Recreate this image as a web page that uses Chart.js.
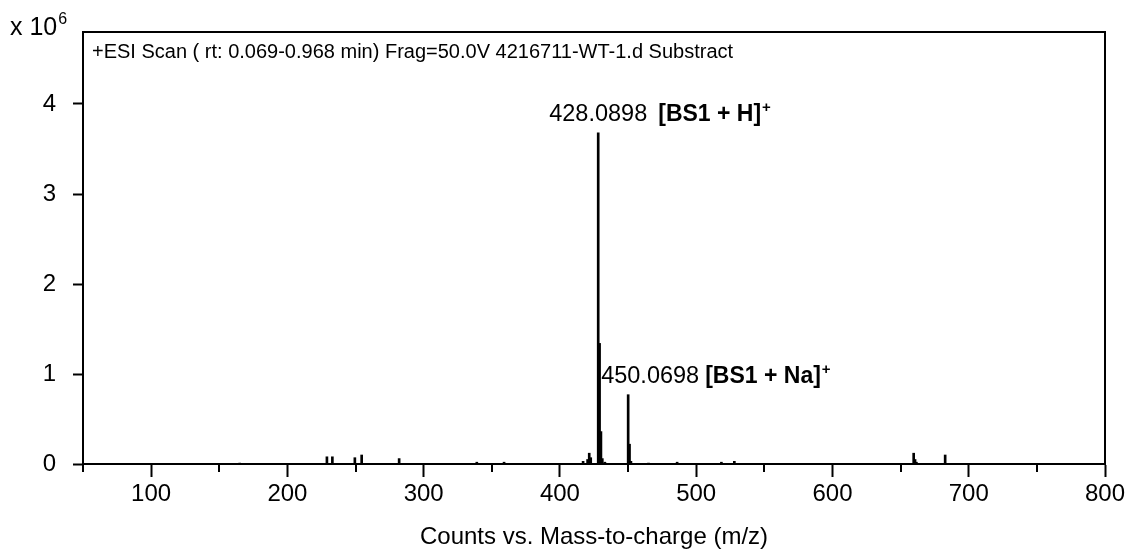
<!DOCTYPE html>
<html>
<head>
<meta charset="utf-8">
<script src="https://cdn.jsdelivr.net/npm/chart.js@4.4.0/dist/chart.umd.min.js"></script>
<style>
  html, body { margin: 0; padding: 0; background: #fff; }
</style>
</head>
<body>
<canvas id="spectrum" width="1129" height="552"></canvas>
<script>
// m/z of each stick and its abundance (x 10^6 counts)
const mzValues = [165, 229, 233, 249.5, 254.5, 282, 339, 359, 417, 420.3, 421.5, 422.6,
                  428.09, 429.09, 430.09, 431.1, 433, 450.07, 451.07, 452.1, 465, 486,
                  518.5, 528, 659.6, 660.6, 661.6, 682.7];
const counts = [0.01, 0.08, 0.08, 0.07, 0.1, 0.06, 0.02, 0.02, 0.03, 0.05, 0.12, 0.07,
                3.68, 1.34, 0.36, 0.06, 0.02, 0.77, 0.22, 0.03, 0.01, 0.02,
                0.02, 0.03, 0.12, 0.05, 0.02, 0.1];
const xTicks = [100, 200, 300, 400, 500, 600, 700, 800];
const xMinorTicks = [50, 150, 250, 350, 450, 550, 650, 750];
const yTicks = [0, 1, 2, 3, 4];
const peakMz = [428.0898, 450.0698];
const peakText = ['428.0898', '450.0698'];
const peakIon = ['[BS1 + H]', '[BS1 + Na]'];
const scanTitle = '+ESI Scan ( rt: 0.069-0.968 min) Frag=50.0V 4216711-WT-1.d Substract';
const xTitle = 'Counts vs. Mass-to-charge (m/z)';

const FONT = '"Liberation Sans", Arial, sans-serif';

const extras = {
    id: 'extras',
    afterDraw(chart) {
        const ctx = chart.ctx;
        const area = chart.chartArea;
        const x = chart.scales.x;
        const y = chart.scales.y;
        ctx.save();
        ctx.strokeStyle = '#000';
        ctx.lineWidth = 2;
        // top and right sides of the box
        ctx.beginPath();
        ctx.moveTo(area.left, area.top);
        ctx.lineTo(area.right, area.top);
        ctx.lineTo(area.right, area.bottom);
        ctx.stroke();
        // minor ticks
        xMinorTicks.forEach(v => {
            const px = Math.round(x.getPixelForValue(v));
            ctx.beginPath();
            ctx.moveTo(px, area.bottom);
            ctx.lineTo(px, area.bottom + 8);
            ctx.stroke();
        });

        ctx.fillStyle = '#000';
        ctx.textBaseline = 'alphabetic';
        // multiplier
        ctx.font = '25px ' + FONT;
        ctx.textAlign = 'left';
        ctx.fillText('x 10', 10, 35);
        const w = ctx.measureText('x 10').width;
        ctx.font = '16px ' + FONT;
        ctx.fillText('6', 10 + w + 1, 24);

        // scan description
        ctx.font = '20px ' + FONT;
        ctx.fillText(scanTitle, area.left + 9, area.top + 26);

        // peak labels
        peakMz.forEach((mz, i) => {
            const idx = mzValues.findIndex(m => Math.abs(m - mz) < 0.5);
            const px = x.getPixelForValue(mz);
            const py = y.getPixelForValue(counts[idx]) - 12;
            ctx.font = '23.5px ' + FONT;
            const tw = ctx.measureText(peakText[i]).width;
            let left = i === 0 ? px - tw / 2 : px - 27;
            ctx.textAlign = 'left';
            ctx.fillText(peakText[i], left, py);
            ctx.font = 'bold 23px ' + FONT;
            const ionX = left + tw + (i === 0 ? 11 : 6);
            ctx.fillText(peakIon[i], ionX, py);
            const iw = ctx.measureText(peakIon[i]).width;
            ctx.font = 'bold 15px ' + FONT;
            ctx.fillText('+', ionX + iw + 1, py - 9);
        });
        ctx.restore();
    }
};

new Chart(document.getElementById('spectrum'), {
    type: 'bar',
    data: {
        datasets: [{
            data: mzValues.map((m, i) => ({ x: m, y: counts[i] })),
            backgroundColor: '#000',
            borderWidth: 0,
            barThickness: 2
        }]
    },
    options: {
        responsive: false,
        animation: false,
        devicePixelRatio: 1,
        layout: { padding: { left: 0, right: 24, top: 32, bottom: 0 } },
        plugins: { legend: { display: false }, tooltip: { enabled: false } },
        scales: {
            x: {
                type: 'linear',
                min: 50,
                max: 800,
                offset: false,
                afterFit(scale) { scale.height = 88; },
                afterBuildTicks(scale) { scale.ticks = xTicks.map(v => ({ value: v })); },
                grid: { offset: false, drawOnChartArea: false, drawTicks: true, tickLength: 13, tickWidth: 2, color: '#000' },
                border: { display: true, color: '#000', width: 2 },
                ticks: { color: '#000', font: { family: FONT, size: 24 }, padding: 3, maxRotation: 0 },
                title: { display: true, text: xTitle, color: '#000', font: { family: FONT, size: 24 }, padding: { top: 0, bottom: 0 } }
            },
            y: {
                min: 0,
                max: 4.8,
                afterFit(scale) { scale.width = 83; },
                afterBuildTicks(scale) { scale.ticks = yTicks.map(v => ({ value: v })); },
                grid: { drawOnChartArea: false, drawTicks: true, tickLength: 10, tickWidth: 2, color: '#000' },
                border: { display: true, color: '#000', width: 2 },
                ticks: { color: '#000', font: { family: FONT, size: 24 }, padding: 17 }
            }
        }
    },
    plugins: [extras]
});
</script>
</body>
</html>
